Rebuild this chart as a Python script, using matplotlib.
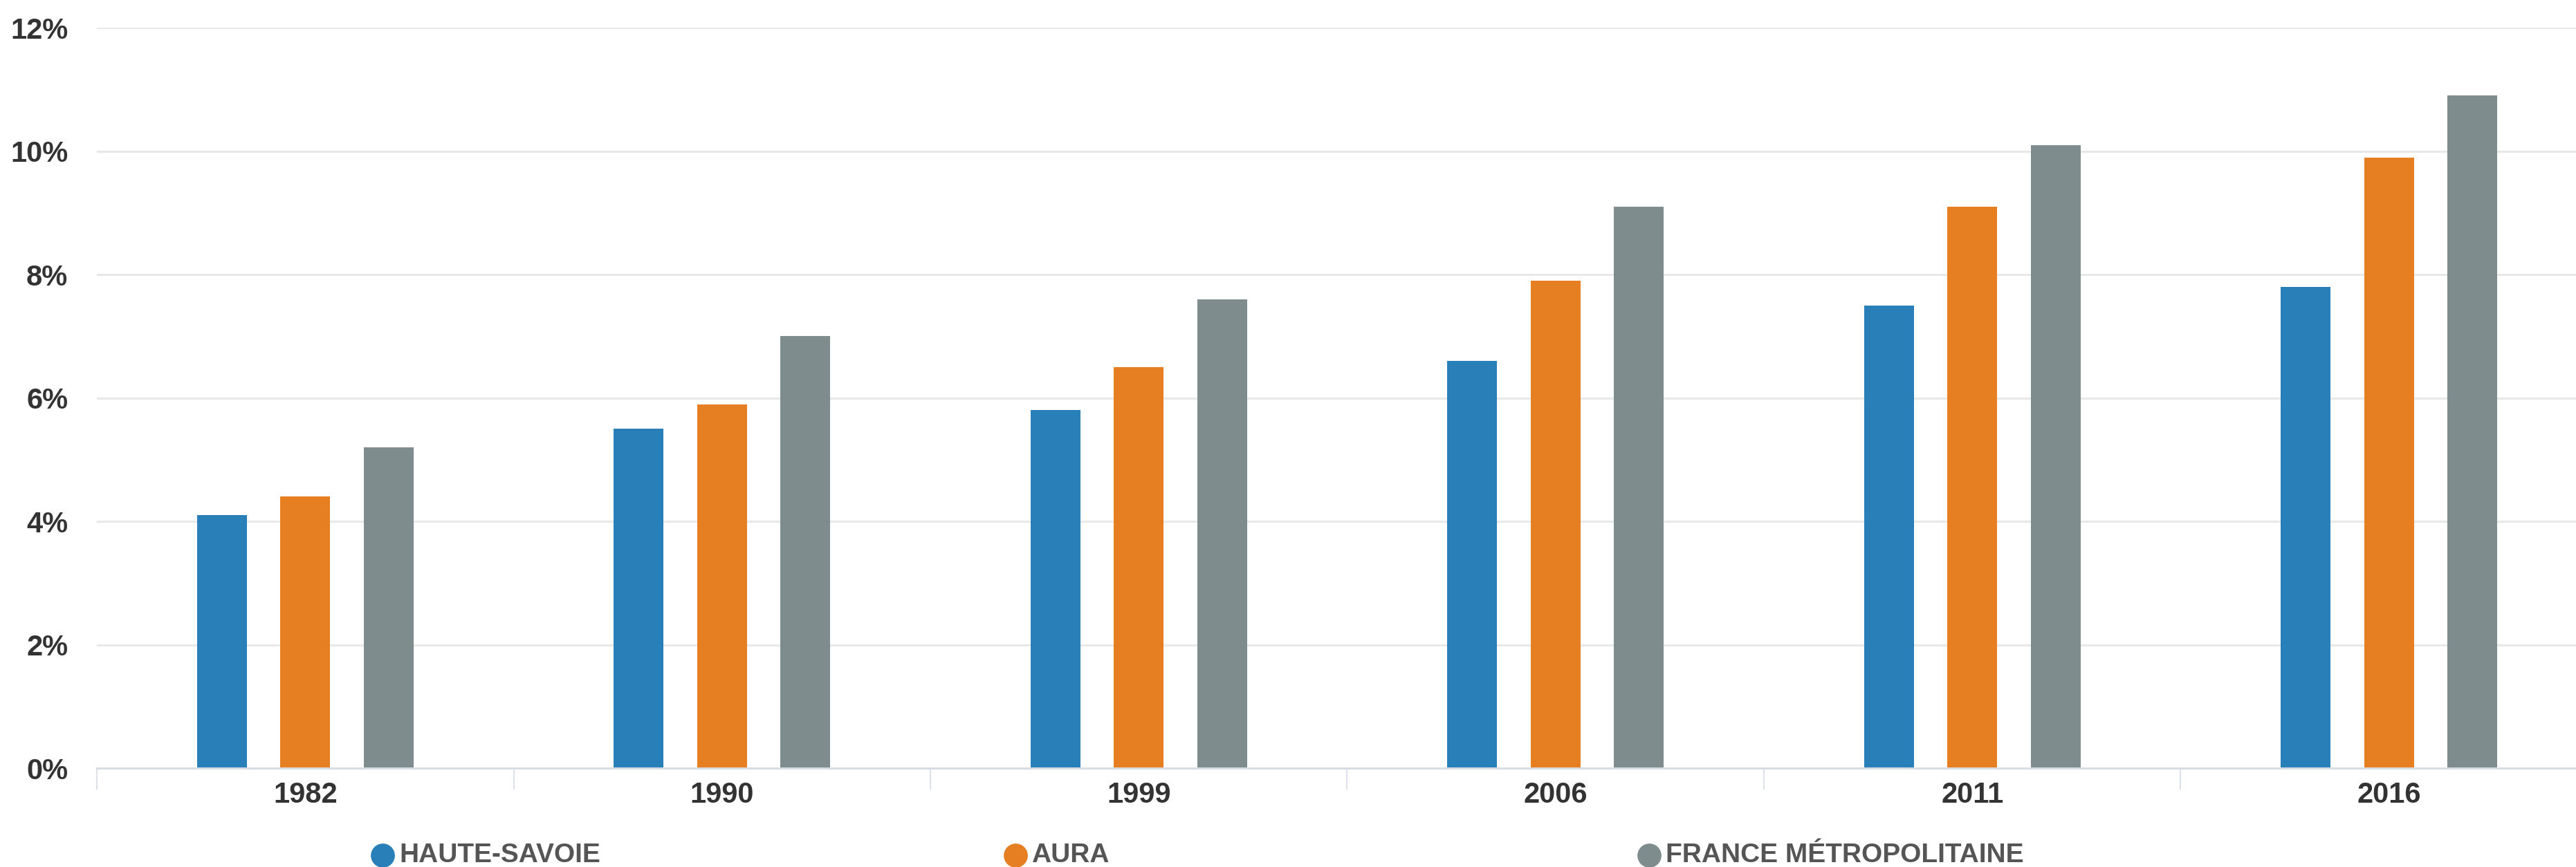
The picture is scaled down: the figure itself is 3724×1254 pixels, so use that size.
import matplotlib
matplotlib.use("Agg")
import matplotlib.pyplot as plt
from matplotlib.lines import Line2D
from matplotlib.ticker import FixedLocator, PercentFormatter
import numpy as np

# Share of the population (in %) by census year
years = ["1982", "1990", "1999", "2006", "2011", "2016"]
haute_savoie = [4.1, 5.5, 5.8, 6.6, 7.5, 7.8]
aura = [4.4, 5.9, 6.5, 7.9, 9.1, 9.9]
france_metro = [5.2, 7.0, 7.6, 9.1, 10.1, 10.9]

series_names = ["HAUTE-SAVOIE", "AURA", "FRANCE MÉTROPOLITAINE"]
series_values = [haute_savoie, aura, france_metro]
series_colors = ["#2980B9", "#E67E22", "#7F8C8D"]

y_ticks = [0, 2, 4, 6, 8, 10, 12]

plt.rcParams["font.family"] = ["Liberation Sans", "DejaVu Sans"]

fig = plt.figure(figsize=(37.24, 12.54), dpi=100)
ax = fig.add_axes([0.0376, 0.114, 0.9707, 0.854])

x = np.arange(len(years))
bar_w = 0.12
offsets = [-0.2, 0.0, 0.2]
for vals, off, col, name in zip(series_values, offsets, series_colors, series_names):
    ax.bar(x + off, vals, width=bar_w, color=col, label=name, zorder=3)

ax.set_xlim(-0.5, len(years) - 0.5)
ax.set_ylim(0, 12)

# horizontal grid
ax.yaxis.set_major_locator(FixedLocator(y_ticks))
ax.yaxis.set_major_formatter(PercentFormatter(decimals=0))
ax.grid(axis="y", color="#e8e8e8", linewidth=2.2, zorder=0)
ax.grid(axis="x", visible=False)

# category labels centred, boundary ticks between categories
ax.set_xticks(x)
ax.set_xticklabels(years)
ax.set_xticks(np.arange(-0.5, len(years) + 0.5, 1.0), minor=True)
ax.tick_params(axis="x", which="major", length=0, pad=14,
               labelsize=30, labelcolor="#333333")
ax.tick_params(axis="x", which="minor", length=22, width=1.5, color="#dde1ea")
ax.tick_params(axis="y", length=0, pad=30, labelsize=30, labelcolor="#333333")
for lbl in ax.get_xticklabels() + ax.get_yticklabels():
    lbl.set_fontweight("bold")

for side in ["top", "right", "left"]:
    ax.spines[side].set_visible(False)
ax.spines["bottom"].set_color("#d8dce6")
ax.spines["bottom"].set_linewidth(2.2)
ax.spines["bottom"].set_zorder(4)

# legend entries laid out at fixed spacing along the bottom
legend_x = [0.1486, 0.3941, 0.6403]
legend_y = 0.0133
for lx, col, name in zip(legend_x, series_colors, series_names):
    fig.add_artist(Line2D([lx], [legend_y], marker="o", markersize=24,
                          color=col, linestyle="none",
                          transform=fig.transFigure))
    fig.text(lx + 0.0064, legend_y, name, ha="left", va="center",
             fontsize=28, fontweight="bold", color="#555555")

fig.savefig("out.png", dpi=100, facecolor="white")
